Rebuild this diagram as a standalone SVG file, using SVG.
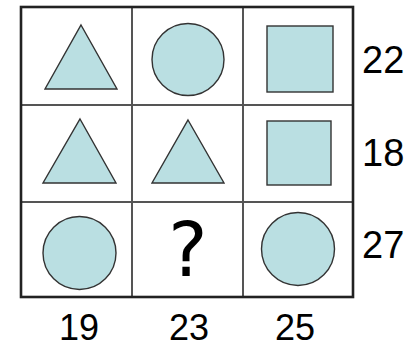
<svg xmlns="http://www.w3.org/2000/svg" width="411" height="347" viewBox="0 0 411 347">
<style>
.shape{fill:#badfe2;stroke:#333;stroke-width:1.4}
.inner{stroke:#555;stroke-width:2;fill:none}
.outer{stroke:#222;stroke-width:2.6;fill:none}
.lbl{font-family:"Liberation Sans",Arial,sans-serif;font-size:38px;fill:#000}
.blbl{font-family:"Liberation Sans",Arial,sans-serif;font-size:36px;fill:#000}
</style>
<rect width="411" height="347" fill="#fff"/>
<g id="grid">
<line class="inner" x1="132" y1="7" x2="132" y2="297"/>
<line class="inner" x1="243" y1="7" x2="243" y2="297"/>
<line class="inner" x1="21" y1="105" x2="353" y2="105"/>
<line class="inner" x1="21" y1="202" x2="353" y2="202"/>
<rect class="outer" x="21" y="7" width="332" height="290"/>
</g>
<g id="r1c1"><polygon class="shape" points="81,25 117,89 45,89"/></g>
<g id="r1c2"><circle class="shape" cx="188" cy="59.5" r="36"/></g>
<g id="r1c3"><rect class="shape" x="267" y="26" width="66" height="66"/></g>
<g id="r2c1"><polygon class="shape" points="80,119 116,183 43,183"/></g>
<g id="r2c2"><polygon class="shape" points="188,120 224,183 152,183"/></g>
<g id="r2c3"><rect class="shape" x="267" y="121" width="64" height="64"/></g>
<g id="r3c1"><circle class="shape" cx="79.5" cy="253" r="36.5"/></g>
<g id="r3c2"><text x="188" y="276" text-anchor="middle" font-family="'DejaVu Sans',sans-serif" font-size="74" fill="#000">?</text></g>
<g id="r3c3"><circle class="shape" cx="298" cy="249" r="36.5"/></g>
<g id="labels">
<text class="lbl" x="362" y="73">22</text>
<text class="lbl" x="362" y="166">18</text>
<text class="lbl" x="362" y="258">27</text>
<text class="blbl" x="79" y="340" text-anchor="middle">19</text>
<text class="blbl" x="189" y="340" text-anchor="middle">23</text>
<text class="blbl" x="295" y="340" text-anchor="middle">25</text>
</g>
</svg>
